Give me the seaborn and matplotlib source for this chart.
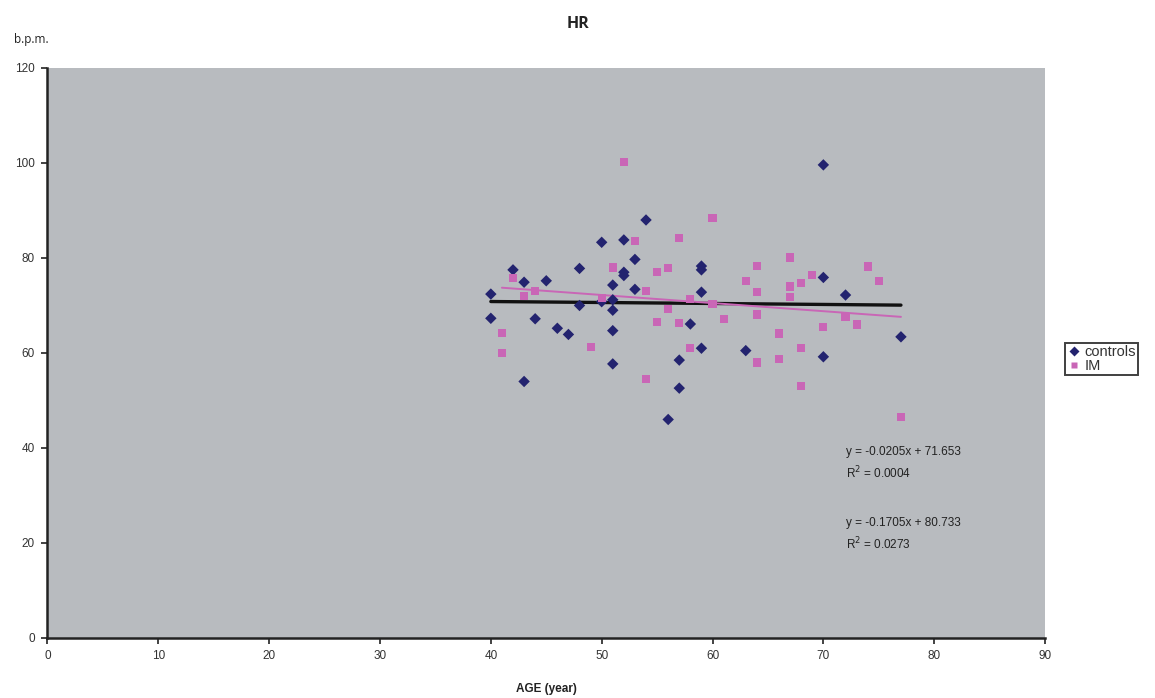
import numpy as np
import pandas as pd
import matplotlib
matplotlib.use("Agg")
import matplotlib.pyplot as plt
import seaborn as sns

# Heart rate (b.p.m.) against age, two groups
controls_age = [40, 40, 42, 43, 43, 44, 45, 46, 47, 48, 48, 50, 50, 51, 51, 51, 51, 51,
                52, 52, 52, 53, 53, 54, 56, 57, 57, 58, 59, 59, 59, 59, 63, 70, 70, 70,
                72, 77]
controls_hr = [72.4, 67.3, 77.5, 74.9, 54.0, 67.2, 75.2, 65.2, 63.9, 77.8, 70.0, 83.3,
               70.8, 74.3, 71.2, 69.0, 64.7, 57.7, 83.8, 77.0, 76.3, 79.7, 73.4, 88.0,
               46.0, 58.5, 52.6, 66.1, 78.3, 77.5, 72.8, 61.0, 60.5, 99.6, 75.9, 59.2,
               72.2, 63.4]

im_age = [41, 41, 42, 43, 44, 49, 50, 51, 52, 53, 54, 54, 55, 55, 56, 56, 57, 57, 58,
          58, 60, 60, 61, 63, 64, 64, 64, 64, 66, 66, 67, 67, 67, 68, 68, 68, 69, 70,
          72, 73, 74, 75, 77]
im_hr = [64.3, 60.0, 75.7, 72.0, 73.0, 61.2, 71.5, 78.0, 100.3, 83.6, 73.0, 54.5, 77.0,
         66.5, 77.8, 69.2, 84.3, 66.3, 71.3, 61.1, 88.5, 70.3, 67.1, 75.2, 78.4, 72.9,
         68.1, 58.0, 64.1, 58.7, 80.1, 74.0, 71.7, 74.7, 61.1, 53.1, 76.4, 65.4, 67.5,
         66.0, 78.2, 75.2, 46.6]

group_names = ["controls", "IM"]
# Linear trend lines (slope, intercept, R^2)
trend_slope = [-0.0205, -0.1705]
trend_intercept = [71.653, 80.733]
trend_r2 = ["0.0004", "0.0273"]

x_ticks = list(range(0, 91, 10))
y_ticks = list(range(0, 121, 20))

navy = "#23236f"
pink = "#c966b6"
bg = "#b8bbbf"

df = pd.DataFrame({
    "age": controls_age + im_age,
    "hr": controls_hr + im_hr,
    "group": [group_names[0]] * len(controls_age) + [group_names[1]] * len(im_age),
})

sns.set_theme(style="white")
plt.rcParams["font.family"] = ["Liberation Sans", "DejaVu Sans"]

fig = plt.figure(figsize=(11.55, 6.98), dpi=100)
ax = fig.add_axes([0.0411, 0.086, 0.8637, 0.8166])
ax.set_facecolor(bg)

sns.scatterplot(
    data=df, x="age", y="hr", hue="group", style="group",
    hue_order=group_names, style_order=group_names,
    palette={"controls": navy, "IM": pink},
    markers={"controls": "D", "IM": "s"},
    s=34, edgecolor="none", ax=ax, legend=True, zorder=3,
)

# Trend lines drawn from the stated equations over each group's age range
line_styles = [dict(color="#111111", lw=2.4), dict(color=pink, lw=1.4)]
ranges = [(min(controls_age), max(controls_age)), (min(im_age), max(im_age))]
for slope, icpt, (x0, x1), st in zip(trend_slope, trend_intercept, ranges, line_styles):
    xs = np.array([x0, x1], dtype=float)
    ax.plot(xs, slope * xs + icpt, zorder=2, **st)

# Equation annotations
ann_y = [39.2, 24.2]
for slope, icpt, r2, yy in zip(trend_slope, trend_intercept, trend_r2, ann_y):
    ax.text(72.0, yy, f"y = {slope:.4f}x + {icpt:.3f}", fontsize=8.5, color="#222222",
            va="center")
    ax.text(72.0, yy - 4.4, f"R$^2$ = {r2}", fontsize=8.5, color="#222222", va="center")

ax.set_xlim(0, 90)
ax.set_ylim(0, 120)
ax.set_xticks(x_ticks)
ax.set_yticks(y_ticks)
ax.tick_params(axis="both", which="major", direction="out", length=4, width=1.2,
               color="#222222", labelsize=8.5, labelcolor="#333333", bottom=True, left=True, pad=5)
for side in ["top", "right"]:
    ax.spines[side].set_visible(False)
for side in ["left", "bottom"]:
    ax.spines[side].set_color("#222222")
    ax.spines[side].set_linewidth(1.8)

ax.set_xlabel("AGE (year)", fontsize=8.5, fontweight="bold", color="#222222", labelpad=15)
ax.set_ylabel("")

handles, labels = ax.get_legend_handles_labels()
ax.get_legend().remove()
leg = fig.legend(handles, labels, loc="upper left", bbox_to_anchor=(0.922, 0.509),
                 borderaxespad=0, frameon=True, fontsize=10.5, handlelength=0.9,
                 handletextpad=0.3, borderpad=0.15, labelspacing=0.0, fancybox=False,
                 markerscale=0.8)
leg.get_frame().set_edgecolor("#111111")
leg.get_frame().set_linewidth(1.4)
for t in leg.get_texts():
    t.set_color("#333333")

fig.text(0.5, 0.966, "HR", ha="center", va="center", fontsize=11.5, fontweight="bold",
         family=["Open Sans", "DejaVu Sans"], color="#222222")
fig.text(0.012, 0.943, "b.p.m.", ha="left", va="center", fontsize=8.5,
         family=["Open Sans", "DejaVu Sans"], color="#222222")

fig.savefig("out.png", dpi=100, facecolor="white")
